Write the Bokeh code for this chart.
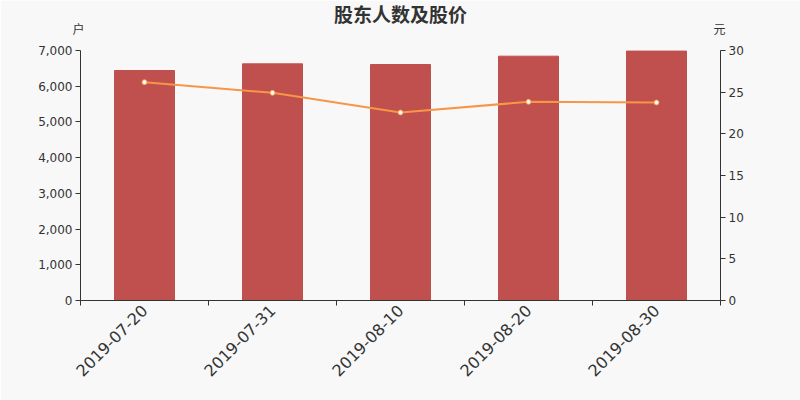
from bokeh.plotting import figure
from bokeh.models import Range1d, LinearAxis, FixedTicker, NumeralTickFormatter, Label, ColumnDataSource
from bokeh.embed import file_html
from bokeh.resources import INLINE

title_text = "股东人数及股价"
left_unit = "户"
right_unit = "元"
dates = ["2019-07-20", "2019-07-31", "2019-08-10", "2019-08-20", "2019-08-30"]
holders = [6440, 6627, 6608, 6841, 6990]
prices = [26.2, 24.92, 22.56, 23.84, 23.76]
left_ticks = [0, 1000, 2000, 3000, 4000, 5000, 6000, 7000]
right_ticks = [0, 5, 10, 15, 20, 25, 30]

BG = "#f8f8f8"
TXT = "#333333"
BAR = "#c0504d"
LINE = "#f79646"

xs = [i + 0.5 for i in range(len(dates))]
src = ColumnDataSource(dict(x=xs, h=holders, p=prices))

p = figure(width=800, height=400, output_backend="svg", toolbar_location=None,
           x_range=Range1d(0, len(dates)), y_range=Range1d(0, 7000),
           min_border_left=80, min_border_right=80, min_border_top=50, min_border_bottom=100,
           background_fill_color=BG, border_fill_color=BG, outline_line_color=None)

p.extra_y_ranges = {"price": Range1d(0, 30)}
p.xgrid.visible = False
p.ygrid.visible = False
p.xaxis.visible = False

p.vbar(x="x", top="h", width=60 / 128, source=src, color=BAR)
p.line(x="x", y="p", source=src, y_range_name="price", line_color=LINE, line_width=2)
p.scatter(x="x", y="p", source=src, y_range_name="price", size=5,
          fill_color="white", line_color=LINE, line_width=1)

# boundary tick axis (labels hidden)
tick_axis = LinearAxis(ticker=FixedTicker(ticks=list(range(len(dates) + 1))),
                       major_label_text_color=None, major_label_text_font_size="1px",
                       minor_tick_line_color=None,
                       axis_line_color=TXT, major_tick_line_color=TXT,
                       major_tick_in=0, major_tick_out=5, major_label_standoff=0)
p.add_layout(tick_axis, "below")
# label axis
lab_axis = LinearAxis(ticker=FixedTicker(ticks=xs),
                      major_label_overrides={x: d for x, d in zip(xs, dates)},
                      major_label_orientation=0.785398, axis_line_color=None,
                      major_tick_line_color=None, minor_tick_line_color=None,
                      major_tick_in=0, major_tick_out=0,
                      major_label_text_font_size="16px", major_label_text_color=TXT,
                      major_label_text_font="DejaVu Sans", major_label_standoff=2)
p.add_layout(lab_axis, "below")

la = p.yaxis[0]
la.ticker = FixedTicker(ticks=left_ticks)
la.formatter = NumeralTickFormatter(format="0,0")
ra = LinearAxis(y_range_name="price", ticker=FixedTicker(ticks=right_ticks))
p.add_layout(ra, "right")
for ax in [la, ra]:
    ax.axis_line_color = TXT
    ax.major_tick_line_color = TXT
    ax.minor_tick_line_color = None
    ax.major_tick_in = 0
    ax.major_tick_out = 5
    ax.major_label_text_font_size = "12px"
    ax.major_label_text_color = TXT
    ax.major_label_text_font = "DejaVu Sans"
    ax.major_label_standoff = 3

p.add_layout(Label(x=78, y=28, x_units="canvas", y_units="canvas", text=left_unit,
                   text_align="center", text_baseline="middle", text_font_size="12px",
                   text_color=TXT, text_font="Noto Sans CJK SC"), "left")
p.add_layout(Label(x=719, y=28, x_units="canvas", y_units="canvas", text=right_unit,
                   text_align="center", text_baseline="middle", text_font_size="12px",
                   text_color=TXT, text_font="Noto Sans CJK SC"), "right")
p.add_layout(Label(x=320, y=37, x_units="screen", y_units="screen", text=title_text,
                   text_align="center", text_baseline="middle", text_font_size="19px",
                   text_font_style="bold", text_color=TXT, text_font="Noto Sans CJK SC"), "above")

open("out.html", "w").write(file_html(p, INLINE))
